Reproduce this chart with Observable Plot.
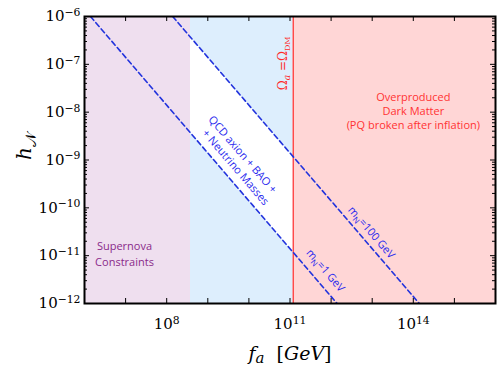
<!DOCTYPE html>
<html><head><meta charset="utf-8">
<script src="https://cdn.jsdelivr.net/npm/d3@7"></script>
<script src="https://cdn.jsdelivr.net/npm/@observablehq/plot@0.6"></script>
<style>
body{margin:0;background:#fff;}
</style></head><body><div id="chart"></div>
<script>
// ---- data ----
const regionNames = ["Supernova", "QCD window", "Overproduced"];
const regionX1 = [1e6, 3.8e8, 1.2e11];
const regionX2 = [3.8e8, 1.2e11, 1e16];
const regionFill = ["#efdfef", "#ddeefd", "#ffd6d6"];
const yBottom = 1e-12, yTop = 1e-6;

const bandX = [3.8e8, 1.2e11];
const bandLow = [3.7e-9, 1.17e-11];
const bandHigh = [3.7e-7, 1.17e-9];

const relicX = [1.2e11];

const lineMass = ["1 GeV", "1 GeV", "100 GeV", "100 GeV"];
const lineX = [1.4e6, 1.4e12, 1.4e8, 1.4e14];
const lineY = [1e-6, 1e-12, 1e-6, 1e-12];

const xTickLabels = [1e8, 1e11, 1e14];
const yTickLabels = [1e-12, 1e-11, 1e-10, 1e-9, 1e-8, 1e-7, 1e-6];

// annotations
const redText = ["Overproduced\nDark Matter\n(PQ broken after inflation)"];
const redTextX = [1e14], redTextY = [1.08e-8];
const snText = ["Supernova\nConstraints"];
const snX = [9.4e6], snY = [1.13e-11];
const omegaText = ["OMEGA"]; const omegaX = [6.9e10], omegaY = [1.05e-7];
const blueText = ["QCD axion + BAO +", "+ Neutrino Masses", "MN100", "MN1"];
const blueX = [7e9, 4.7e9, 9.6e12, 7.3e11];
const blueY = [1.3e-9, 7e-10, 3.05e-11, 4.9e-12];

// ---- layout ----
const W = 500, H = 378, mL = 84, mR = 5, mT = 16, mB = 75;
const innerW = W - mL - mR, innerH = H - mT - mB;

const yAll = d3.scaleLog().domain([yBottom, yTop]).ticks();
const isDecade = d => Math.abs(Math.log10(d) - Math.round(Math.log10(d))) < 1e-9;
const yMajor = yAll.filter(isDecade), yMinor = yAll.filter(d => !isDecade(d));
const xDecades = d3.scaleLog().domain([1e6, 1e16]).ticks().filter(isDecade);

const fmt = d => `10^${Math.round(Math.log10(d))}`;
const serif = "DejaVu Serif";
const sans = "Open Sans";

const chart = Plot.plot({
  width: W, height: H,
  marginLeft: mL, marginRight: mR, marginTop: mT, marginBottom: mB,
  style: {background: "white", overflow: "visible"},
  x: {type: "log", domain: [1e6, 1e16]},
  y: {type: "log", domain: [yBottom, yTop]},
  marks: [
    Plot.rect(d3.range(regionNames.length), {
      x1: i => regionX1[i], x2: i => regionX2[i], y1: () => yBottom, y2: () => yTop,
      fill: i => regionFill[i]
    }),
    Plot.areaY(d3.range(bandX.length), {x: i => bandX[i], y1: i => bandLow[i], y2: i => bandHigh[i], fill: "white"}),
    Plot.ruleX(relicX, {stroke: "#ff3b3b", strokeWidth: 1.3}),
    Plot.line(d3.range(lineX.length), {
      x: i => lineX[i], y: i => lineY[i], z: i => lineMass[i],
      stroke: "#2233dd", strokeWidth: 1.6, strokeDasharray: "5,3.2", clip: true
    }),
    // ticks (inward)
    Plot.tickY(yMajor, {y: d => d, insetRight: innerW - 5, stroke: "black"}),
    Plot.tickY(yMinor, {y: d => d, insetRight: innerW - 3, stroke: "black"}),
    Plot.tickY(yMajor, {y: d => d, insetLeft: innerW - 5, stroke: "black"}),
    Plot.tickY(yMinor, {y: d => d, insetLeft: innerW - 3, stroke: "black"}),
    Plot.tickX(xDecades, {x: d => d, insetTop: innerH - 5, stroke: "black"}),
    Plot.tickX(xDecades, {x: d => d, insetBottom: innerH - 5, stroke: "black"}),
    Plot.frame({stroke: "black", strokeWidth: 2}),
    // annotations
    Plot.text(redText, {x: () => redTextX[0], y: () => redTextY[0], text: d => d, fill: "#ff3333",
      fontSize: 11, fontFamily: sans, lineHeight: 1.3}),
    Plot.text(snText, {x: () => snX[0], y: () => snY[0], text: d => d, fill: "#8a2a8a",
      fontSize: 11, fontFamily: sans, lineHeight: 1.38}),
    Plot.text(omegaText, {x: () => omegaX[0], y: () => omegaY[0], text: d => d, fill: "#ff2a2a",
      rotate: -90, fontSize: 12, fontFamily: serif}),
    Plot.text(d3.range(blueText.length), {x: i => blueX[i], y: i => blueY[i], text: i => blueText[i],
      fill: "#2a2aee", rotate: 49.3, fontSize: 11, fontFamily: sans}),
    // axes labels
    Plot.axisX(xTickLabels, {tickSize: 0, tickPadding: 15, tickFormat: fmt, label: null,
      fontSize: 15, fontFamily: serif}),
    Plot.axisY(yTickLabels, {tickSize: 0, tickPadding: 4, tickFormat: fmt, label: null,
      fontSize: 15, fontFamily: serif}),
    Plot.text(["YLABEL"], {frameAnchor: "left", dx: -60, rotate: -90, text: d => d,
      fontSize: 20, fontFamily: serif}),
    Plot.text(["XLABEL"], {frameAnchor: "bottom", dy: 56, text: d => d,
      fontSize: 19, fontFamily: serif})
  ]
});
document.getElementById("chart").appendChild(chart);

// ---- rich text post-processing ----
const NS = "http://www.w3.org/2000/svg";
function rich(el, parts) {
  el.textContent = "";
  for (const p of parts) {
    const t = document.createElementNS(NS, "tspan");
    t.textContent = p.s;
    if (p.dy) t.setAttribute("dy", p.dy);
    if (p.size) t.setAttribute("font-size", p.size);
    if (p.italic) t.setAttribute("font-style", "italic");
    el.appendChild(t);
  }
}
chart.querySelectorAll("text").forEach(el => {
  const s = el.textContent;
  let m = s.match(/^10\^(-?\d+)$/);
  if (m) {
    rich(el, [{s: "10"}, {s: m[1].replace("-", "\u2212"), dy: "-0.5em", size: "0.72em"}]);
  } else if (s === "OMEGA") {
    rich(el, [{s: "\u03a9"}, {s: "a", dy: 3, size: 9, italic: true}, {s: " =", dy: -3},
      {s: "\u03a9"}, {s: "DM", dy: 3, size: 8}]);
  } else if (s === "MN100" || s === "MN1") {
    rich(el, [{s: "m"}, {s: "N", dy: 3, size: 8}, {s: s === "MN100" ? "=100 GeV" : "=1 GeV", dy: -3}]);
  } else if (s === "YLABEL") {
    rich(el, [{s: "h", italic: true}, {s: "\ud835\udca9", dy: 5, size: 15}]);
  } else if (s === "XLABEL") {
    rich(el, [{s: "f", italic: true}, {s: "a", dy: 3, size: 15, italic: true},
      {s: "  [", dy: -3}, {s: "GeV", italic: true}, {s: "]"}]);
  }
});
</script></body></html>
